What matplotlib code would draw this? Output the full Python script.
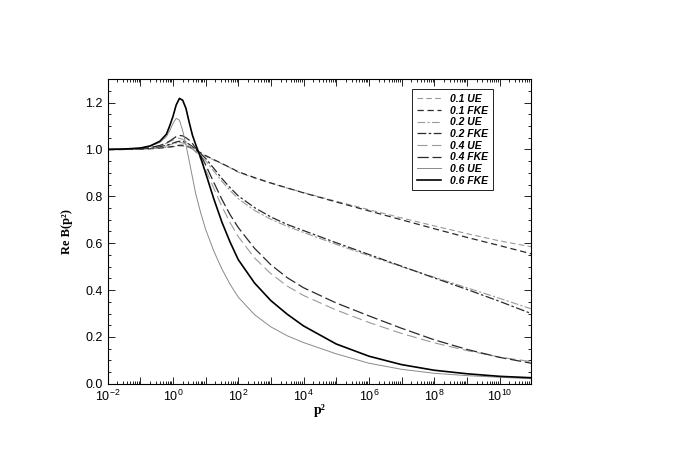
import numpy as np
import matplotlib
matplotlib.use('Agg')
import matplotlib.pyplot as plt
from matplotlib.ticker import LogLocator, FixedLocator, MultipleLocator, NullFormatter

plt.rcParams['font.family'] = 'Liberation Sans'
plt.rcParams['mathtext.fontset'] = 'custom'
plt.rcParams['mathtext.rm'] = 'Liberation Sans'
plt.rcParams['mathtext.it'] = 'Liberation Sans:italic'

log_p2 = [-2, -1.5, -1, -0.7, -0.4, -0.2, -0.1, 0, 0.1, 0.2, 0.3, 0.4, 0.5, 0.6, 0.7,
          0.85, 1.0, 1.25, 1.5, 1.75, 2, 2.5, 3, 3.5, 4, 5, 6, 7, 8, 9, 10, 10.97]

ue_01 = [1.0, 1.0, 1.001, 1.003, 1.006, 1.009, 1.010, 1.011, 1.013, 1.015, 1.014, 1.012, 1.008, 1.002, 0.995,
         0.984, 0.972, 0.955, 0.939, 0.922, 0.903, 0.878, 0.856, 0.835, 0.816, 0.779, 0.743, 0.708, 0.674, 0.641, 0.610, 0.585]
fke_01 = [1.0, 1.0, 1.001, 1.003, 1.006, 1.009, 1.011, 1.013, 1.016, 1.018, 1.018, 1.016, 1.012, 1.006, 0.998,
          0.986, 0.974, 0.957, 0.940, 0.923, 0.905, 0.880, 0.857, 0.836, 0.815, 0.776, 0.738, 0.700, 0.662, 0.625, 0.590, 0.555]
ue_02 = [1.0, 1.0, 1.003, 1.005, 1.010, 1.015, 1.019, 1.024, 1.028, 1.030, 1.028, 1.022, 1.013, 1.002, 0.990,
         0.972, 0.952, 0.908, 0.864, 0.825, 0.790, 0.740, 0.702, 0.672, 0.646, 0.595, 0.547, 0.500, 0.455, 0.410, 0.365, 0.320]
fke_02 = [1.0, 1.0, 1.003, 1.006, 1.012, 1.018, 1.022, 1.027, 1.032, 1.035, 1.034, 1.030, 1.022, 1.012, 1.000,
          0.982, 0.962, 0.920, 0.876, 0.837, 0.802, 0.752, 0.712, 0.680, 0.654, 0.602, 0.552, 0.502, 0.452, 0.403, 0.352, 0.300]
ue_04 = [1.0, 1.001, 1.004, 1.008, 1.016, 1.026, 1.033, 1.040, 1.047, 1.048, 1.043, 1.033, 1.020, 1.005, 0.990,
         0.960, 0.915, 0.835, 0.757, 0.688, 0.628, 0.537, 0.470, 0.417, 0.377, 0.315, 0.262, 0.215, 0.175, 0.142, 0.114, 0.095]
fke_04 = [1.0, 1.001, 1.004, 1.008, 1.017, 1.028, 1.036, 1.045, 1.055, 1.060, 1.058, 1.050, 1.040, 1.025, 1.005,
          0.975, 0.935, 0.860, 0.787, 0.722, 0.667, 0.578, 0.508, 0.453, 0.410, 0.345, 0.290, 0.237, 0.188, 0.147, 0.113, 0.088]
ue_06 = [1.0, 1.002, 1.006, 1.014, 1.030, 1.055, 1.080, 1.110, 1.133, 1.125, 1.080, 1.020, 0.950, 0.880, 0.810,
         0.730, 0.660, 0.567, 0.490, 0.425, 0.370, 0.295, 0.243, 0.205, 0.176, 0.128, 0.088, 0.062, 0.045, 0.035, 0.028, 0.022]
fke_06 = [1.0, 1.002, 1.006, 1.015, 1.035, 1.065, 1.100, 1.140, 1.190, 1.218, 1.210, 1.175, 1.115, 1.060, 1.020,
          0.965, 0.900, 0.790, 0.690, 0.605, 0.530, 0.430, 0.355, 0.297, 0.247, 0.170, 0.118, 0.082, 0.058, 0.043, 0.032, 0.026]

labels = ['0.1 UE', '0.1 FKE', '0.2 UE', '0.2 FKE', '0.4 UE', '0.4 FKE', '0.6 UE', '0.6 FKE']
series = [ue_01, fke_01, ue_02, fke_02, ue_04, fke_04, ue_06, fke_06]

light = '#9a9a9a'
dark = '#2a2a2a'
styles = [
    dict(color=light, lw=0.8, ls=(0, (5, 3))),
    dict(color=dark, lw=0.9, ls=(0, (5, 3))),
    dict(color=light, lw=0.8, ls=(0, (7, 2, 2, 2))),
    dict(color=dark, lw=0.9, ls=(0, (7, 2, 2, 2))),
    dict(color=light, lw=0.8, ls=(0, (9, 4))),
    dict(color=dark, lw=0.9, ls=(0, (9, 3))),
    dict(color='#8a8a8a', lw=0.7, ls='-'),
    dict(color='black', lw=1.2, ls='-'),
]

p2 = 10.0 ** np.array(log_p2)

fig = plt.figure(figsize=(6.81, 4.63), dpi=100)
ax = fig.add_axes([0.158, 0.171, 0.622, 0.658])

for vals, lab, st in zip(series, labels, styles):
    ax.plot(p2, vals, label=lab, **st)

ax.set_xscale('log')
ax.set_xlim(1e-2, 10 ** 10.97)
ax.set_ylim(0, 1.3)

# ticks: inward, on all sides
ax.xaxis.set_major_locator(FixedLocator([10.0 ** k for k in range(-2, 11)]))
ax.xaxis.set_minor_locator(LogLocator(base=10, subs=np.arange(2, 10), numticks=30))
ax.xaxis.set_minor_formatter(NullFormatter())
ax.set_xticklabels(['$10^{%d}$' % k if k % 2 == 0 else '' for k in range(-2, 11)])
ax.set_yticks(np.arange(0, 1.21, 0.2))
ax.set_yticklabels(['%.1f' % v for v in np.arange(0, 1.21, 0.2)])
ax.yaxis.set_minor_locator(MultipleLocator(0.05))
ax.tick_params(which='both', direction='in', top=True, right=True, labelsize=9, width=0.6)
ax.tick_params(which='major', length=5)
ax.tick_params(which='minor', length=2.5)
for s in ax.spines.values():
    s.set_linewidth(0.8)

ax.set_xlabel('p²', family='Liberation Serif', weight='bold', fontsize=10, labelpad=0)
ax.set_ylabel('Re B(p²)', family='Liberation Serif', weight='bold', fontsize=9, labelpad=9)

leg = ax.legend(loc='upper right', bbox_to_anchor=(0.922, 0.984), fancybox=False,
                edgecolor='black', framealpha=1, handlelength=2.3, labelspacing=0.16,
                borderpad=0.45, handletextpad=0.9,
                prop=dict(family='Liberation Sans', weight='bold', style='italic', size=7.5))
leg.get_frame().set_linewidth(0.6)

fig.savefig('out.png', dpi=100)
